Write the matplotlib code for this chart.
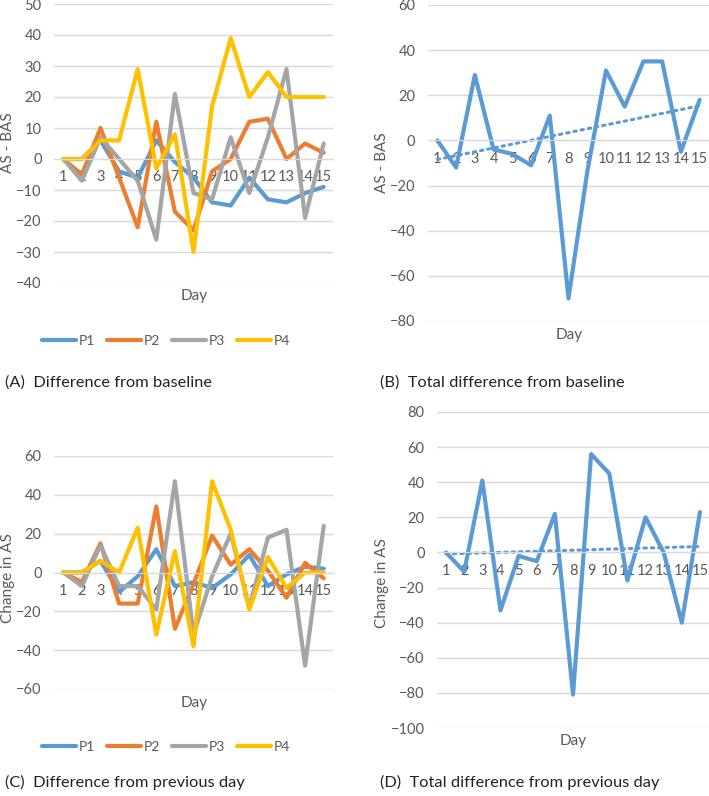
import numpy as np
import matplotlib.pyplot as plt

plt.rcParams['font.family'] = ['Lato', 'DejaVu Sans']

days = list(range(1, 16))
series_names = ['P1', 'P2', 'P3', 'P4']

# (A) difference from baseline, per participant
diff_p1 = [0, 0, 6, -4, -6, 6, -1, -6, -14, -15, -6, -13, -14, -11, -9]
diff_p2 = [0, -5, 10, -6, -22, 12, -17, -23, -4, 0, 12, 13, 0, 5, 2]
diff_p3 = [0, -7, 7, 0, -7, -26, 21, -11, -13, 7, -11, 7, 29, -19, 5]
diff_p4 = [0, 0, 6, 6, 29, -3, 8, -30, 17, 39, 20, 28, 20, 20, 20]

# (B) total difference from baseline
total_diff = [0, -12, 29, -4, -6, -11, 11, -70, -14, 31, 15, 35, 35, -5, 18]

# (C) difference from previous day, per participant
chg_p1 = [0, 0, 6, -10, -2, 12, -7, -5, -8, -1, 9, -7, -1, 3, 2]
chg_p2 = [0, -5, 15, -16, -16, 34, -29, -6, 19, 4, 12, 1, -13, 5, -3]
chg_p3 = [0, -7, 14, -7, -7, -19, 47, -32, -2, 20, -18, 18, 22, -48, 24]
chg_p4 = [0, 0, 6, 0, 23, -32, 11, -38, 47, 22, -19, 8, -8, 0, 0]

# (D) total difference from previous day
total_chg = [0, -11, 41, -33, -2, -5, 22, -81, 56, 45, -16, 20, 0, -40, 23]

colors = ['#5B9BD5', '#ED7D31', '#A5A5A5', '#FFC000']
grid_c = '#D9D9D9'
txt_c = '#595959'
W, H = 709, 796
tick_fs = 10.5


def fx(px):
    return px / W


def fy(py):
    return 1 - py / H


def setup(ax, ylim, step):
    ax.set_xlim(0.5, 15.5)
    ax.set_ylim(*ylim)
    ax.set_yticks(np.arange(ylim[0], ylim[1] + 1, step))
    ax.set_xticks(days)
    ax.set_xticklabels([str(d) for d in days])
    ax.grid(axis='y', color=grid_c, lw=1)
    ax.set_axisbelow(True)
    for s in ['top', 'right', 'left']:
        ax.spines[s].set_visible(False)
    ax.spines['bottom'].set_position(('data', 0))
    ax.spines['bottom'].set_color(grid_c)
    ax.tick_params(axis='both', length=0, labelsize=tick_fs, colors=txt_c)
    ax.tick_params(axis='y', pad=9)
    ax.tick_params(axis='x', pad=8)


def line(ax, y, c):
    ax.plot(days, y, color=c, lw=3, solid_joinstyle='round', solid_capstyle='round')


def trend(ax, y, c):
    k, b = np.polyfit(days, y, 1)
    xs = np.array([1, 15])
    ax.plot(xs, k * xs + b, color=c, lw=2.2, linestyle=(0, (0.8, 1.6)), dash_capstyle='round')


fig = plt.figure(figsize=(W / 100, H / 100), dpi=100)

# (A)
axA = fig.add_axes([fx(54), fy(283), fx(279), 279 / H])
setup(axA, (-40, 50), 10)
lines = []
for y, c, n in zip([diff_p1, diff_p2, diff_p3, diff_p4], colors, series_names):
    l, = axA.plot(days, y, color=c, lw=3, solid_joinstyle='round', solid_capstyle='round', label=n)
    lines.append(l)

# (B)
axB = fig.add_axes([fx(428), fy(321), fx(281), 316 / H])
setup(axB, (-80, 60), 20)
line(axB, total_diff, colors[0])
trend(axB, total_diff, colors[0])

# (C)
axC = fig.add_axes([fx(54), fy(689), fx(279), 233 / H])
setup(axC, (-60, 60), 20)
for y, c in zip([chg_p1, chg_p2, chg_p3, chg_p4], colors):
    line(axC, y, c)

# (D)
axD = fig.add_axes([fx(437), fy(728), fx(272), 316 / H])
setup(axD, (-100, 80), 20)
line(axD, total_chg, colors[0])
trend(axD, total_chg, colors[0])

# axis titles
fs = 11
fig.text(fx(8), fy(143), 'AS - BAS', rotation=90, ha='center', va='center', fontsize=fs, color=txt_c)
fig.text(fx(382), fy(163), 'AS - BAS', rotation=90, ha='center', va='center', fontsize=fs, color=txt_c)
fig.text(fx(8), fy(578), 'Change in AS', rotation=90, ha='center', va='center', fontsize=fs, color=txt_c)
fig.text(fx(382), fy(583), 'Change in AS', rotation=90, ha='center', va='center', fontsize=fs, color=txt_c)
fig.text(fx(194), fy(296), 'Day', ha='center', va='center', fontsize=fs, color=txt_c)
fig.text(fx(569), fy(335), 'Day', ha='center', va='center', fontsize=fs, color=txt_c)
fig.text(fx(194), fy(703), 'Day', ha='center', va='center', fontsize=fs, color=txt_c)
fig.text(fx(573), fy(741), 'Day', ha='center', va='center', fontsize=fs, color=txt_c)

# legends
for yy in [341, 747]:
    fig.legend(handles=lines, labels=series_names, loc='center', bbox_to_anchor=(fx(166), fy(yy)),
               ncol=4, frameon=False, fontsize=10, handlelength=2.4, handletextpad=0.2,
               columnspacing=0.9, labelcolor=txt_c)

# captions
cap = 11.8
fig.text(fx(5), fy(383), '(A)  Difference from baseline', ha='left', va='center', fontsize=cap, color='#222222')
fig.text(fx(380), fy(383), '(B)  Total difference from baseline', ha='left', va='center', fontsize=cap, color='#222222')
fig.text(fx(5), fy(782), '(C)  Difference from previous day', ha='left', va='center', fontsize=cap, color='#222222')
fig.text(fx(380), fy(782), '(D)  Total difference from previous day', ha='left', va='center', fontsize=cap, color='#222222')

fig.savefig('out.png', dpi=100)
